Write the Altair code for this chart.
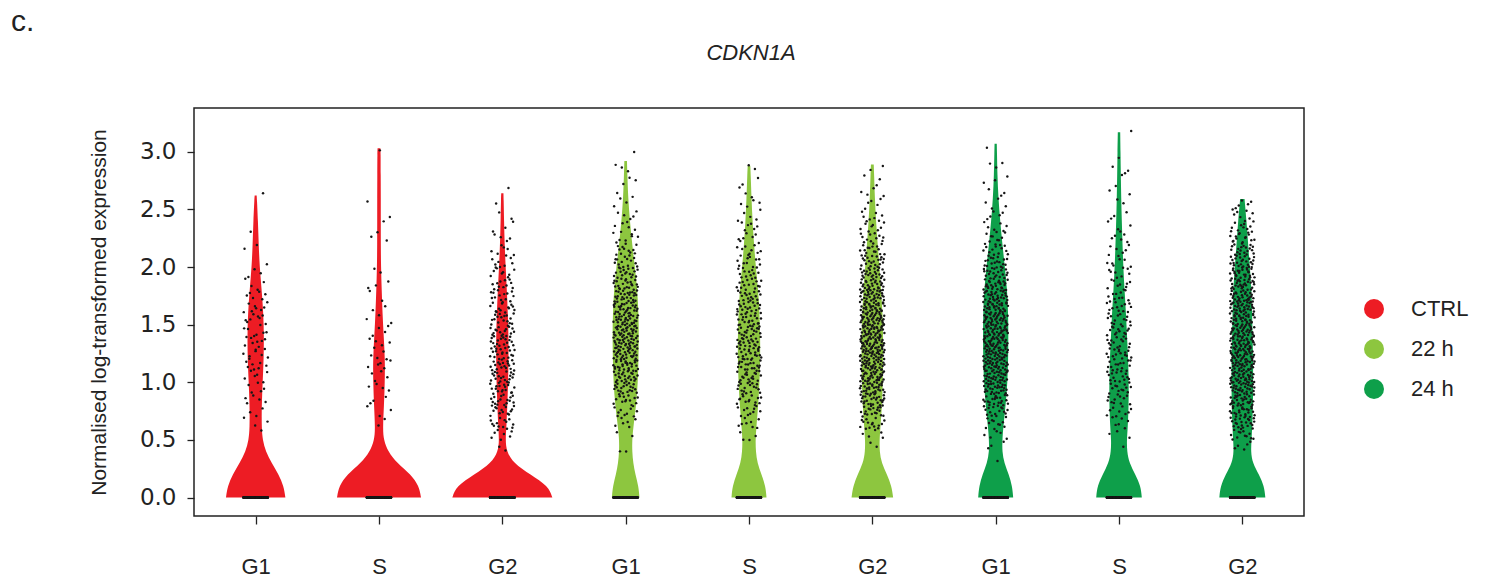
import altair as alt
import pandas as pd

# ---------------- data ----------------
conditions = ["CTRL", "22 h", "24 h"]
phases = ["G1", "S", "G2"]
colors = ["#ED1C24", "#8DC63F", "#0E9F4A"]
gene = "CDKN1A"
panel_label = "c."
y_title = "Normalised log-transformed expression"

# violin profile: expression levels and relative density (half-width) at each level
levels_common = [0.0, 0.1, 0.2, 0.3, 0.4, 0.5, 0.6, 0.8, 1.0, 1.2, 1.4, 1.6, 1.8,
                 2.0, 2.2, 2.4, 2.6, 2.8, 3.0]
dens_ctrl_g1 = [29.7, 28, 23, 16, 10, 7, 6, 6, 7, 8, 8.3, 7.7, 6, 4, 3, 2.3, 1.2]
dens_ctrl_s = [42, 40, 32, 18, 9, 4.7, 3.8, 5, 5.8, 6, 4.7, 3.5, 2.7, 2, 1.8, 1.8, 1.8, 1.7, 1.6]
dens_ctrl_g2 = [50, 46, 28, 11, 4.2, 3.2, 4, 5, 5.8, 6.2, 6.2, 5.5, 4.5, 3.3, 2.3, 1.7, 1.3]
dens_22_g1 = [13.8, 12.8, 9.7, 7.5, 6.5, 6.5, 7.5, 10.5, 12.2, 12.8, 13.2, 12.8, 11.7, 9.2, 6.5, 4.2, 2.5, 1.7]
dens_22_s = [17.5, 16.5, 12.5, 8.3, 6.8, 6.5, 7.3, 9.2, 10.5, 11.2, 11.2, 10.5, 9.2, 6.8, 5, 3.5, 2.5, 1.7]
dens_22_g2 = [20.8, 19.2, 14.7, 9.2, 7.2, 7.2, 8, 9.7, 10.5, 10.8, 10.8, 10.2, 8.8, 7.2, 5.3, 3.7, 2.5, 1.8]
dens_24_g1 = [17.5, 16.5, 13.2, 8.5, 6.5, 6.7, 7.5, 10, 11.8, 12.5, 12.7, 12.5, 11.5, 9.2, 6.7, 4.5, 2.7, 1.7, 1.3]
dens_24_s = [22.8, 21.7, 16.3, 10.3, 8, 7.8, 8.7, 9.7, 9.7, 9.2, 8, 7, 5.5, 4.3, 3.5, 2.8, 2.2, 1.8, 1.5]
dens_24_g2 = [23, 21.8, 16.7, 10.2, 8.5, 9.2, 9.8, 10.7, 10.8, 10.8, 10.2, 9.8, 9.2, 7.5, 5.8, 4.2]
max_expr = [2.62, 3.03, 2.64, 2.92, 2.88, 2.89, 3.07, 3.17, 2.59]
dens_at_max = [1.0, 1.4, 1.1, 1.3, 1.3, 1.4, 1.1, 1.2, 2.2]

# expressing cells: counts per 0.1-wide expression bin (0.0-0.1, 0.1-0.2, ...)
counts_ctrl_g1 = [0, 0, 0, 0, 0, 1, 3, 3, 5, 5, 6, 7, 8, 8, 7, 8, 8, 6, 4, 3, 1, 2, 0, 1, 0, 0, 1]
counts_ctrl_s = [0, 0, 0, 0, 0, 0, 2, 3, 3, 4, 4, 5, 5, 4, 4, 3, 2, 2, 3, 2, 0, 0, 2, 2, 1, 1, 0, 0, 0, 0, 1]
counts_ctrl_g2 = [0, 0, 0, 0, 2, 8, 12, 14, 16, 18, 18, 19, 19, 18, 17, 16, 14, 13, 11, 9, 8, 6, 4, 3, 2, 1, 1]
counts_22_g1 = [0, 0, 0, 1, 1, 2, 6, 10, 14, 20, 24, 28, 30, 32, 32, 30, 28, 25, 22, 18, 14, 11, 8, 6, 5, 3, 2, 3, 3, 1]
counts_22_s = [0, 0, 0, 0, 1, 3, 8, 10, 14, 16, 18, 20, 21, 21, 21, 20, 19, 17, 15, 13, 11, 9, 7, 6, 5, 4, 3, 2, 2]
counts_22_g2 = [0, 0, 0, 0, 2, 6, 14, 20, 26, 30, 34, 36, 38, 38, 38, 37, 35, 32, 28, 24, 20, 15, 12, 9, 7, 5, 4, 3, 2]
counts_24_g1 = [0, 0, 0, 1, 3, 6, 10, 16, 22, 28, 32, 35, 36, 37, 37, 36, 34, 30, 26, 22, 17, 13, 9, 7, 5, 4, 3, 3, 2, 1, 1]
counts_24_s = [0, 0, 0, 0, 1, 3, 6, 9, 11, 13, 14, 15, 15, 14, 14, 13, 12, 10, 9, 8, 7, 6, 5, 4, 3, 2, 2, 2, 3, 1, 0, 1]
counts_24_g2 = [0, 0, 0, 0, 5, 14, 20, 24, 28, 32, 34, 35, 36, 36, 35, 34, 33, 31, 29, 27, 23, 19, 15, 11, 8, 5]
# non-expressing cells (value 0) per group
zero_cells = [220, 220, 260, 160, 160, 180, 200, 180, 200]

densities = [dens_ctrl_g1, dens_ctrl_s, dens_ctrl_g2, dens_22_g1, dens_22_s,
             dens_22_g2, dens_24_g1, dens_24_s, dens_24_g2]
counts = [counts_ctrl_g1, counts_ctrl_s, counts_ctrl_g2, counts_22_g1, counts_22_s,
          counts_22_g2, counts_24_g1, counts_24_s, counts_24_g2]

# ---------------- build tables ----------------
DENS_SCALE = 1 / 123.3   # density units -> category-width units
JITTER = 0.1
BIN = 0.1


def radical_inverse(i, base):
    """Halton low-discrepancy value in [0, 1) used to spread strip-plot points."""
    f, r = 1.0, 0.0
    while i > 0:
        f /= base
        r += f * (i % base)
        i //= base
    return r


vrows = []
prows = []
for g in range(9):
    cond = conditions[g // 3]
    d = densities[g]
    lv = levels_common[:len(d)] + [max_expr[g]]
    dv = d + [dens_at_max[g]]
    for v, w in zip(lv, dv):
        vrows.append({"grp": "g%d" % g, "condition": cond, "expr": v,
                      "lo": g - w * DENS_SCALE, "hi": g + w * DENS_SCALE})
    k = 1
    for _ in range(zero_cells[g]):
        fx = radical_inverse(k, 2)
        prows.append({"px": g + (2 * fx - 1) * JITTER, "py": 0.0})
        k += 1
    for b, n in enumerate(counts[g]):
        for j in range(n):
            fx = radical_inverse(k, 2)
            fy = radical_inverse(k, 3)
            prows.append({"px": g + (2 * fx - 1) * JITTER,
                          "py": b * BIN + fy * BIN})
            k += 1

vdf = pd.DataFrame(vrows)
pdf = pd.DataFrame(prows)

tick_labels = phases * 3
label_expr = "[" + ",".join("'%s'" % t for t in tick_labels) + "][datum.value]"

x_scale = alt.Scale(domain=[-0.5, 8.5], nice=False, zero=False)
y_scale = alt.Scale(domain=[-0.16, 3.38], nice=False, zero=False)

x_axis = alt.Axis(values=list(range(9)), labelExpr=label_expr, title=None,
                  grid=False, domain=False, tickSize=8, tickColor="#222",
                  tickWidth=1.3, labelPadding=32, labelFont="Liberation Sans",
                  labelFontSize=22, labelColor="#222")
y_axis = alt.Axis(values=[0, 0.5, 1.0, 1.5, 2.0, 2.5, 3.0], format=".1f",
                  title=y_title,
                  titleFont="Liberation Sans", titleFontSize=21,
                  titleFontWeight="normal", titleColor="#222", titlePadding=30,
                  grid=False, domain=False, tickSize=7, tickColor="#222",
                  tickWidth=1.3, labelPadding=11, labelFont="DejaVu Sans",
                  labelFontSize=23, labelColor="#222")

violins = alt.Chart(vdf).mark_area(orient="horizontal", interpolate="basis",
                                   opacity=1).encode(
    y=alt.Y("expr:Q", scale=y_scale, axis=y_axis),
    x=alt.X("lo:Q", scale=x_scale, axis=x_axis),
    x2=alt.X2("hi:Q"),
    detail="grp:N",
    color=alt.Color("condition:N",
                    scale=alt.Scale(domain=conditions, range=colors),
                    legend=alt.Legend(orient="none", legendX=1169, legendY=190,
                                      title=None, symbolType="circle",
                                      symbolSize=400, symbolStrokeWidth=0,
                                      symbolOpacity=1, labelFont="Liberation Sans",
                                      labelFontSize=22, labelColor="#222",
                                      rowPadding=18, labelOffset=26, padding=0)),
)

points = alt.Chart(pdf).mark_circle(size=6, color="#161616", opacity=1).encode(
    x=alt.X("px:Q", scale=x_scale),
    y=alt.Y("py:Q", scale=y_scale),
)

label = alt.Chart(pd.DataFrame({"t": [panel_label]})).mark_text(
    align="left", baseline="alphabetic", font="Liberation Sans", fontSize=30,
    color="#222").encode(text="t:N", x=alt.value(-183), y=alt.value(-77))

title = alt.Chart(pd.DataFrame({"t": [gene]})).mark_text(
    align="center", baseline="alphabetic", font="Liberation Sans", fontSize=22,
    fontStyle="italic", color="#222").encode(
    text="t:N", x=alt.value(557), y=alt.value(-48))

chart = alt.layer(violins, points, label, title).properties(
    width=1110, height=408,
    autosize=alt.AutoSizeParams(type="none"),
    padding={"left": 186, "top": 100, "right": 170, "bottom": 64},
).configure_view(stroke="#222", strokeWidth=1.5)

chart.save("out.html", embed_options={"renderer": "svg", "actions": False})
